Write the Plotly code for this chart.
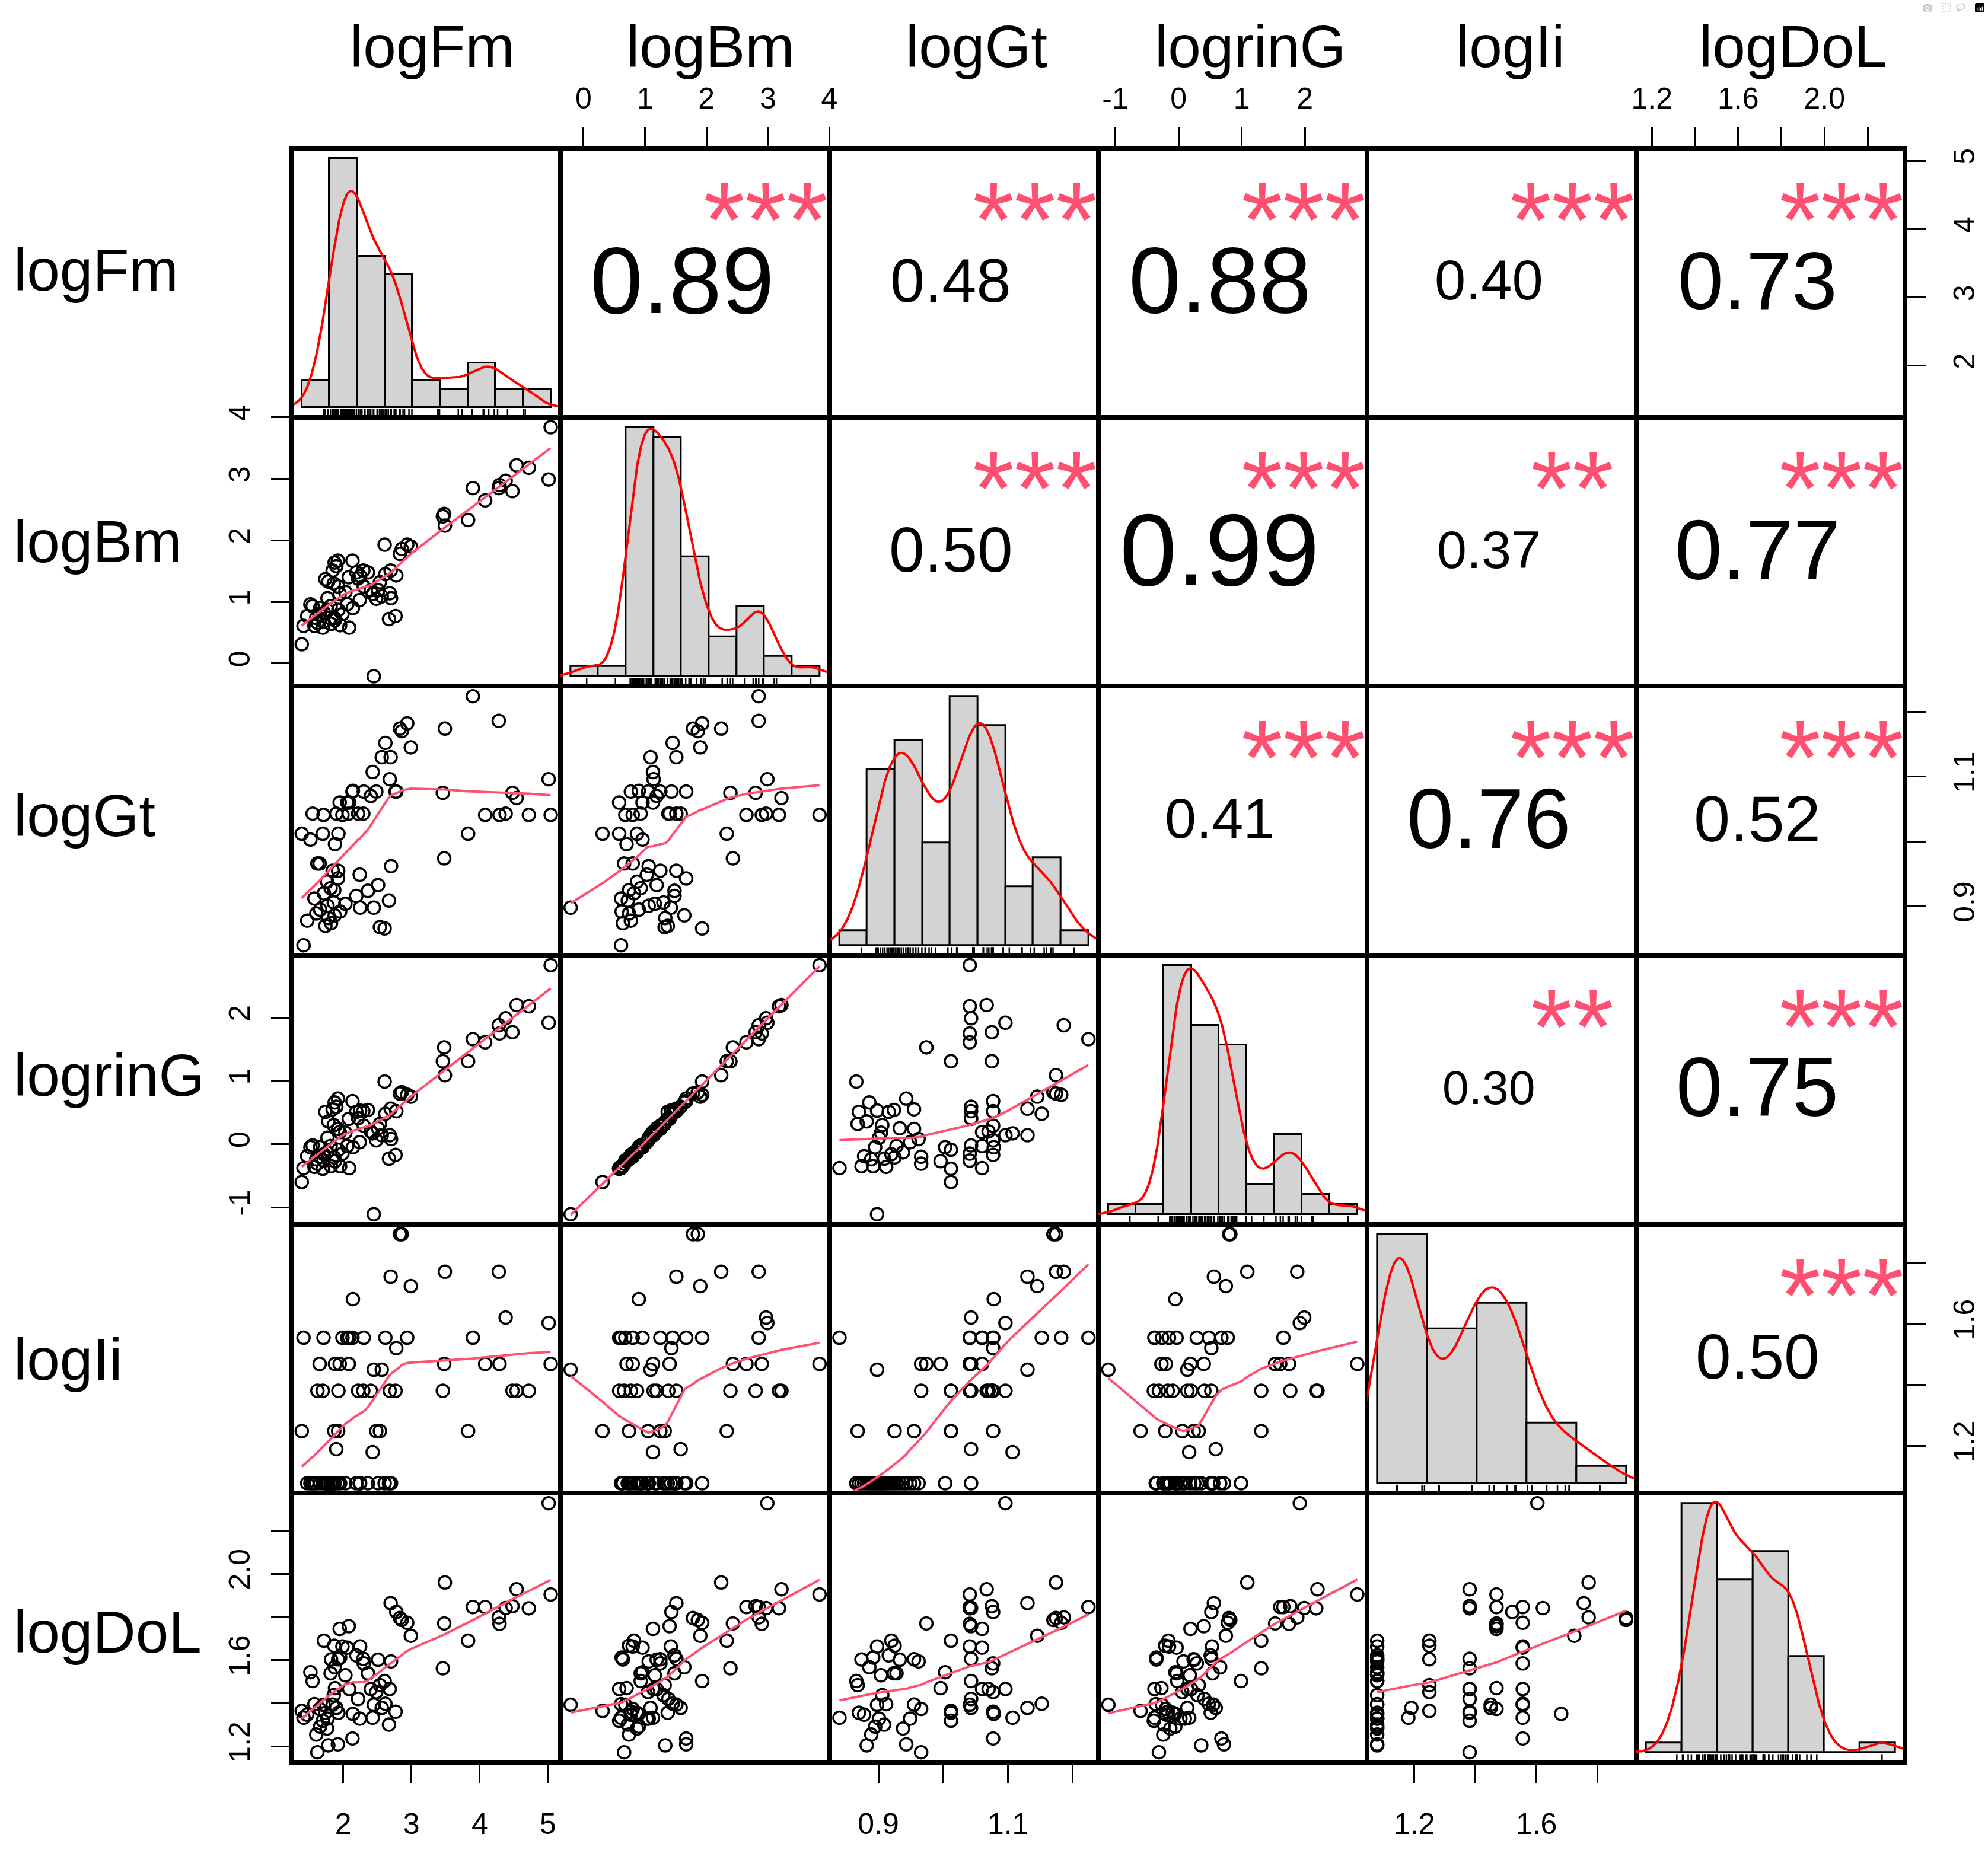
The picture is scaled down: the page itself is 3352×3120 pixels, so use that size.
import numpy as np
import plotly.graph_objects as go
from plotly.subplots import make_subplots

FONT = 'Liberation Sans, Arial, sans-serif'

var_names = ['logFm', 'logBm', 'logGt', 'logrinG', 'logIi', 'logDoL']

logFm = [1.393, 1.419, 1.473, 1.520, 1.552, 1.579, 1.606, 1.622, 1.655, 1.662,
         1.701, 1.712, 1.718, 1.739, 1.764, 1.770, 1.782, 1.816, 1.822, 1.846,
         1.862, 1.869, 1.875, 1.880, 1.899, 1.922, 1.926, 1.930, 1.949, 1.955,
         1.989, 2.032, 2.059, 2.082, 2.088, 2.136, 2.142, 2.192, 2.218, 2.242,
         2.248, 2.295, 2.301, 2.362, 2.405, 2.432, 2.448, 2.485, 2.511, 2.538,
         2.565, 2.607, 2.618, 2.671, 2.682, 2.695, 2.701, 2.767, 2.778, 2.831,
         2.858, 2.938, 2.991,
         5.040, 5.010, 4.720, 4.540, 4.480, 4.380, 4.280, 4.290, 4.080, 3.900,
         3.830, 3.490, 3.480, 3.460]

logBm = [0.31, 0.61, 0.77, 0.96, 0.93, 0.61, 0.74, 0.66, 0.80, 0.90,
         0.58, 0.68, 0.82, 1.37, 0.87, 1.06, 1.33, 0.93, 0.64, 1.51,
         1.30, 0.74, 1.64, 0.70, 1.58, 1.67, 1.25, 0.87, 1.13, 0.62,
         0.80, 1.16, 0.96, 1.40, 0.58, 1.67, 0.90, 1.48, 1.38, 1.03,
         1.42, 1.51, 1.25, 1.48, 1.19, 1.13, -0.21, 1.05, 1.19, 1.32,
         1.09, 1.93, 1.45, 0.72, 1.14, 1.51, 1.06, 0.77, 1.43, 1.78,
         1.86, 1.93, 1.90,
         3.84, 2.99, 3.18, 3.22, 2.80, 2.97, 2.85, 2.90, 2.65, 2.85,
         2.33, 2.24, 2.43, 2.39]

logGt = [1.012, 0.840, 0.878, 1.003, 1.043, 0.912, 0.889, 0.966, 0.966, 0.895,
         1.012, 1.041, 0.920, 0.870, 0.938, 0.901, 0.882, 0.928, 0.874, 0.955,
         0.906, 0.925, 0.886, 0.996, 1.043, 0.943, 0.955, 1.012, 1.060, 0.892,
         1.041, 0.904, 1.060, 1.043, 1.060, 1.077, 1.078, 0.916, 1.043, 0.949,
         0.898, 1.043, 1.077, 0.924, 1.070, 1.107, 0.898, 1.077, 0.933, 0.868,
         1.130, 0.866, 1.152, 0.909, 1.096, 1.130, 0.962, 1.077, 1.077, 1.174,
         1.170, 1.182, 1.145,
         1.041, 1.096, 1.041, 1.067, 1.075, 1.043, 1.186, 1.041, 1.041, 1.224,
         1.012, 1.174, 0.974, 1.075]

logrinG = [-0.60, -0.38, -0.19, -0.05, -0.02, -0.36, -0.24, -0.31, -0.20, -0.05,
           -0.39, -0.26, -0.16, 0.51, -0.13, 0.10, 0.36, -0.03, -0.35, 0.55,
           0.30, -0.21, 0.66, -0.27, 0.59, 0.72, 0.24, -0.09, 0.19, -0.35,
           -0.15, 0.18, -0.03, 0.40, -0.38, 0.68, -0.05, 0.51, 0.41, 0.03,
           0.53, 0.52, 0.29, 0.54, 0.20, 0.17, -1.11, 0.06, 0.25, 0.32,
           0.14, 0.99, 0.48, -0.23, 0.14, 0.56, 0.08, -0.17, 0.52, 0.80,
           0.82, 0.78, 0.75,
           2.83, 1.92, 2.18, 2.20, 1.77, 1.99, 1.88, 1.75, 1.61, 1.66,
           1.31, 1.09, 1.53, 1.31]

logIi = [1.249, 1.555, 1.078, 1.078, 1.078, 1.078, 1.078, 1.381, 1.469, 1.078,
         1.381, 1.555, 1.078, 1.078, 1.078, 1.078, 1.078, 1.078, 1.078, 1.078,
         1.078, 1.249, 1.078, 1.469, 1.190, 1.078, 1.249, 1.381, 1.469, 1.078,
         1.555, 1.078, 1.555, 1.469, 1.555, 1.555, 1.681, 1.078, 1.381, 1.078,
         1.078, 1.381, 1.555, 1.078, 1.381, 1.180, 1.450, 1.249, 1.078, 1.249,
         1.450, 1.078, 1.555, 1.078, 1.381, 1.755, 1.078, 1.381, 1.521, 1.894,
         1.894, 1.555, 1.724,
         1.469, 1.603, 1.381, 1.381, 1.381, 1.621, 1.771, 1.469, 1.469, 1.555,
         1.249, 1.771, 1.469, 1.381]

logDoL = [1.365, 1.333, 1.347, 1.544, 1.503, 1.396, 1.255, 1.173, 1.374, 1.292,
          1.319, 1.393, 1.690, 1.356, 1.283, 1.329, 1.205, 1.539, 1.603, 1.394,
          1.438, 1.667, 1.567, 1.470, 1.379, 1.210, 1.604, 1.356, 1.745, 1.612,
          1.663, 1.530, 1.658, 1.757, 1.466, 1.237, 1.351, 1.622, 1.420, 1.329,
          1.663, 1.606, 1.585, 1.539, 1.466, 1.333, 1.393, 1.452, 1.602, 1.484,
          1.379, 1.503, 1.398, 1.301, 1.466, 1.864, 1.594, 1.361, 1.823, 1.795,
          1.786, 1.773, 1.713,
          1.904, 2.327, 1.840, 1.928, 1.850, 1.841, 1.798, 1.768, 1.846, 1.846,
          1.690, 1.960, 1.770, 1.562]

columns = [logFm, logBm, logGt, logrinG, logIi, logDoL]

# upper panels: cell (row, col), printed correlation and stars
cor_cells = [(0, 1), (0, 2), (0, 3), (0, 4), (0, 5),
             (1, 2), (1, 3), (1, 4), (1, 5),
             (2, 3), (2, 4), (2, 5),
             (3, 4), (3, 5),
             (4, 5)]
cor_values = [0.89, 0.48, 0.88, 0.40, 0.73,
              0.50, 0.99, 0.37, 0.77,
              0.41, 0.76, 0.52,
              0.30, 0.75,
              0.50]
cor_stars = ['***', '***', '***', '***', '***',
             '***', '***', '**', '***',
             '***', '***', '***',
             '**', '***',
             '***']

# histogram breaks on the diagonal
hist_start = [1.0, -0.5, 0.80, -1.5, 1.0, 1.0]
hist_stop = [5.5, 4.0, 1.25, 3.0, 2.0, 2.4]
hist_width = [0.5, 0.5, 0.05, 0.5, 0.2, 0.2]

# outer axis ticks
tick_vals = [[2, 3, 4, 5],
             [0, 1, 2, 3, 4],
             [0.9, 1.0, 1.1, 1.2],
             [-1, 0, 1, 2],
             [1.2, 1.4, 1.6, 1.8],
             [1.2, 1.4, 1.6, 1.8, 2.0, 2.2]]
tick_text = [['2', '3', '4', '5'],
             ['0', '1', '2', '3', '4'],
             ['0.9', '', '1.1', ''],
             ['-1', '0', '1', '2'],
             ['1.2', '', '1.6', ''],
             ['1.2', '', '1.6', '', '2.0', '']]

W, H = 3352, 3120
LEFT, TOP, PW, PH = 492, 250, 2720, 2722
SMOOTH = '#FF5072'


def paper(px, py):
    return (px - LEFT) / PW, (TOP + PH - py) / PH


def data_range(v):
    lo, hi = min(v), max(v)
    pad = 0.04 * (hi - lo)
    return [lo - pad, hi + pad]


def density_curve(values):
    v = np.asarray(values, float)
    n = len(v)
    q75, q25 = np.percentile(v, [75, 25])
    bw = 0.9 * min(v.std(ddof=1), (q75 - q25) / 1.34) * n ** -0.2
    grid = np.linspace(v.min() - 3 * bw, v.max() + 3 * bw, 512)
    z = (grid[:, None] - v[None, :]) / bw
    dens = np.exp(-0.5 * z ** 2).sum(axis=1) / (n * bw * np.sqrt(2 * np.pi))
    return grid, dens


def lowess(x, y, f=2 / 3, iters=3):
    order = np.argsort(x, kind='stable')
    x = np.asarray(x, float)[order]
    y = np.asarray(y, float)[order]
    n = len(x)
    ns = max(2, min(n, int(f * n + 1e-7)))
    rw = np.ones(n)
    fit = np.zeros(n)
    for it in range(iters + 1):
        for i in range(n):
            d = np.abs(x - x[i])
            h = np.sort(d)[ns - 1]
            if h > 0:
                u = d / h
                w = np.where(u < 0.999, (1 - u ** 3) ** 3, 0.0)
                w[u < 0.001] = 1.0
            else:
                w = (d == 0).astype(float)
            w = w * rw
            sw = w.sum()
            if sw <= 0:
                fit[i] = y[i]
                continue
            xm = (w * x).sum() / sw
            ym = (w * y).sum() / sw
            sxx = (w * (x - xm) ** 2).sum()
            if sxx > 1e-10:
                b = (w * (x - xm) * (y - ym)).sum() / sxx
                fit[i] = ym + b * (x[i] - xm)
            else:
                fit[i] = ym
        if it == iters:
            break
        res = y - fit
        cmad = 6 * np.median(np.abs(res))
        if cmad < 1e-7:
            break
        u = np.abs(res) / cmad
        rw = np.where(u < 0.999, (1 - u ** 2) ** 2, 0.0)
        rw[u < 0.001] = 1.0
    return x, fit


fig = make_subplots(rows=6, cols=6, horizontal_spacing=0, vertical_spacing=0)

base_axis = dict(showgrid=False, zeroline=False, showline=True, mirror=True,
                 linecolor='black', linewidth=3.5, ticks='', showticklabels=False,
                 fixedrange=True)
tick_axis = dict(ticks='outside', ticklen=31, tickwidth=3, tickcolor='black',
                 showticklabels=True,
                 tickfont=dict(family=FONT, size=50, color='black'))

var_ranges = [data_range(v) for v in columns]

for r in range(6):
    for c in range(6):
        xr = var_ranges[c]
        yr = var_ranges[r]
        if r == c:
            v = np.asarray(columns[c], float)
            nb = int(round((hist_stop[c] - hist_start[c]) / hist_width[c]))
            edges = np.linspace(hist_start[c], hist_stop[c], nb + 1)
            counts, _ = np.histogram(v, bins=edges)
            dens = counts / (len(v) * hist_width[c])
            span = edges[-1] - edges[0]
            xr = [edges[0] - 0.04 * span, edges[-1] + 0.04 * span]
            top = dens.max()
            yr = [-0.04 * top, 1.04 * top]
            fig.add_trace(go.Bar(x=(edges[:-1] + edges[1:]) / 2, y=dens,
                                 width=hist_width[c],
                                 marker=dict(color='#D3D3D3',
                                             line=dict(color='black', width=3)),
                                 showlegend=False, hoverinfo='skip'),
                          row=r + 1, col=c + 1)
            gx, gy = density_curve(v)
            fig.add_trace(go.Scatter(x=gx, y=gy, mode='lines',
                                     line=dict(color='#FF0000', width=4),
                                     showlegend=False, hoverinfo='skip'),
                          row=r + 1, col=c + 1)
            rug_x, rug_y = [], []
            tick_h = 0.03 * (yr[1] - yr[0])
            for val in v:
                rug_x += [val, val, None]
                rug_y += [yr[0], yr[0] + tick_h, None]
            fig.add_trace(go.Scatter(x=rug_x, y=rug_y, mode='lines',
                                     line=dict(color='black', width=2.5),
                                     showlegend=False, hoverinfo='skip'),
                          row=r + 1, col=c + 1)
        elif r > c:
            fig.add_trace(go.Scatter(x=columns[c], y=columns[r], mode='markers',
                                     marker=dict(symbol='circle-open', size=21,
                                                 color='black',
                                                 line=dict(width=3.5)),
                                     showlegend=False, hoverinfo='skip'),
                          row=r + 1, col=c + 1)
            sx, sy = lowess(columns[c], columns[r])
            fig.add_trace(go.Scatter(x=sx, y=sy, mode='lines',
                                     line=dict(color=SMOOTH, width=4),
                                     showlegend=False, hoverinfo='skip'),
                          row=r + 1, col=c + 1)
        else:
            # upper cell: an invisible point so the panel and its axes are drawn
            fig.add_trace(go.Scatter(x=[sum(xr) / 2], y=[sum(yr) / 2], mode='markers',
                                     marker=dict(opacity=0),
                                     showlegend=False, hoverinfo='skip'),
                          row=r + 1, col=c + 1)

        xa = dict(base_axis, range=xr)
        ya = dict(base_axis, range=yr)
        if r == 5 and c % 2 == 0:
            xa.update(tick_axis, side='bottom', tickvals=tick_vals[c],
                      ticktext=tick_text[c], ticklabelstandoff=26)
        if r == 0 and c % 2 == 1:
            xa.update(tick_axis, side='top', tickvals=tick_vals[c],
                      ticktext=tick_text[c], ticklabelstandoff=12)
        if c == 0 and r % 2 == 1:
            ya.update(tick_axis, side='left', tickangle=-90,
                      tickvals=tick_vals[r], ticktext=tick_text[r],
                      ticklabelstandoff=16)
        if c == 5 and r % 2 == 0:
            ya.update(tick_axis, side='right', tickangle=-90,
                      tickvals=tick_vals[r], ticktext=tick_text[r],
                      ticklabelstandoff=22)
        fig.update_xaxes(xa, row=r + 1, col=c + 1)
        fig.update_yaxes(ya, row=r + 1, col=c + 1)

annotations = []
cell_w = PW / 6
cell_h = PH / 6
for (r, c), val, stars in zip(cor_cells, cor_values, cor_stars):
    size = 173 * (abs(val) + 0.3) / 1.29
    px = LEFT + (c + 0.5) * cell_w - 22
    py = TOP + (r + 0.5) * cell_h - 4
    x, y = paper(px, py)
    annotations.append(dict(x=x, y=y, xref='paper', yref='paper',
                            text='%.2f' % val, showarrow=False,
                            xanchor='center', yanchor='middle',
                            font=dict(family=FONT, size=size, color='black')))
    px = LEFT + (c + 0.763) * cell_w
    py = TOP + r * cell_h + 120
    x, y = paper(px, py)
    annotations.append(dict(x=x, y=y, xref='paper', yref='paper',
                            text=stars, showarrow=False,
                            xanchor='center', yanchor='middle',
                            font=dict(family=FONT, size=180, color=SMOOTH)))

top_label_x = [729, 1197, 1646, 2108, 2546, 3023]
left_label_y = [455, 913, 1375, 1813, 2292, 2752]
for name, lx, ly in zip(var_names, top_label_x, left_label_y):
    x, y = paper(lx, 78)
    annotations.append(dict(x=x, y=y, xref='paper', yref='paper', text=name,
                            showarrow=False, xanchor='center', yanchor='middle',
                            font=dict(family=FONT, size=100, color='black')))
    x, y = paper(21, ly)
    annotations.append(dict(x=x, y=y, xref='paper', yref='paper', text=name,
                            showarrow=False, xanchor='left', yanchor='middle',
                            font=dict(family=FONT, size=100, color='black')))

fig.update_layout(
    width=W, height=H,
    margin=dict(l=LEFT, r=W - LEFT - PW, t=TOP, b=H - TOP - PH, pad=0),
    paper_bgcolor='white', plot_bgcolor='white',
    bargap=0, showlegend=False,
    annotations=annotations,
    shapes=[dict(type='rect', xref='paper', yref='paper', x0=0, y0=0, x1=1, y1=1,
                 line=dict(color='black', width=8))],
    font=dict(family=FONT, color='black'),
)

fig.write_html("out.html", post_script="document.body.style.margin='0';")
